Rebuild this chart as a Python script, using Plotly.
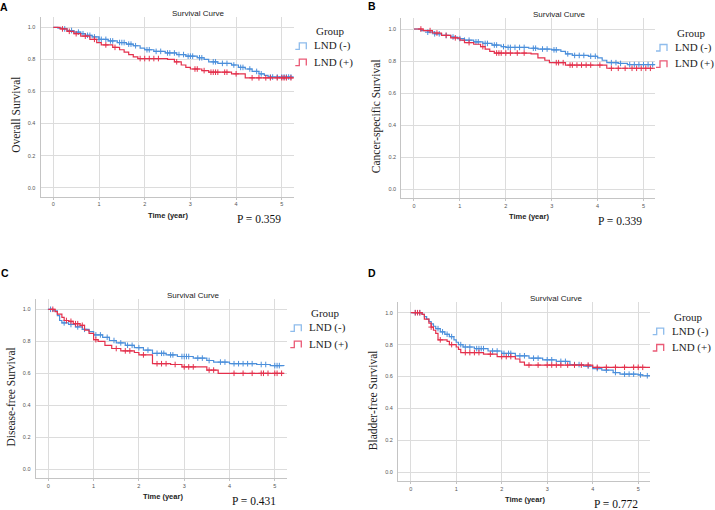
import numpy as np
import plotly.graph_objects as go

# ---- data (time in years, survival) ----
# A: overall survival
A_NEG_T = [0, 0.1, 0.2, 0.3, 0.45, 0.6, 0.7, 0.85, 1.0, 1.2, 1.4, 1.6, 1.75, 1.9, 2.0, 2.2, 2.45, 2.7, 2.9,
           3.15, 3.3, 3.4, 3.6, 3.9, 4.05, 4.2, 4.35, 4.5, 4.62, 4.7, 5.27]
A_NEG_S = [1.0, 0.995, 0.99, 0.98, 0.97, 0.96, 0.95, 0.94, 0.925, 0.915, 0.905, 0.895, 0.885, 0.87, 0.86, 0.85,
           0.84, 0.83, 0.82, 0.81, 0.80, 0.785, 0.775, 0.765, 0.75, 0.74, 0.725, 0.71, 0.70, 0.69, 0.69]
A_POS_T = [0, 0.15, 0.3, 0.45, 0.6, 0.8, 0.95, 1.05, 1.3, 1.45, 1.55, 1.65, 1.75, 1.85, 2.5, 2.65, 2.8, 2.9, 3.0,
           3.25, 3.4, 3.9, 4.2, 5.27]
A_POS_S = [1.0, 0.99, 0.975, 0.96, 0.945, 0.925, 0.905, 0.89, 0.875, 0.86, 0.845, 0.83, 0.815, 0.805, 0.80,
           0.785, 0.765, 0.75, 0.74, 0.73, 0.72, 0.71, 0.685, 0.685]
A_NEG_CENS = [0.25, 0.4, 0.55, 0.65, 0.75, 0.8, 0.9, 1.0, 1.05, 1.15, 1.25, 1.3, 1.45, 1.5, 1.55, 1.65, 1.7, 1.8,
              2.05, 2.1, 2.25, 2.35, 2.5, 2.55, 2.65, 2.75, 2.85, 2.95, 3.0, 3.05, 3.2, 3.25, 3.5, 3.55, 3.7,
              3.8, 3.95, 4.1, 4.15, 4.3, 4.45, 4.55, 4.75, 4.8, 4.9, 5.0, 5.05, 5.1, 5.15, 5.2]
A_POS_CENS = [0.2, 0.35, 0.5, 0.7, 0.9, 1.15, 1.35, 1.9, 2.0, 2.1, 2.2, 2.3, 2.7, 3.1, 3.15, 3.3, 3.45, 3.5, 3.55,
              3.6, 3.75, 3.8, 4.0, 4.35, 4.5, 4.65, 4.75, 4.9, 5.0, 5.05, 5.1, 5.2]

# B: cancer-specific survival
B_NEG_T = [0, 0.15, 0.3, 0.45, 0.6, 0.8, 0.95, 1.1, 1.3, 1.5, 1.7, 1.9, 2.0, 2.5, 2.7, 3.0, 3.2, 3.3, 3.45,
           3.8, 4.0, 4.1, 4.2, 4.45, 4.65, 5.25]
B_NEG_S = [1.0, 0.99, 0.98, 0.97, 0.96, 0.95, 0.94, 0.93, 0.92, 0.91, 0.9, 0.89, 0.885, 0.88, 0.875, 0.87,
           0.86, 0.845, 0.835, 0.83, 0.82, 0.805, 0.79, 0.785, 0.778, 0.778]
B_POS_T = [0, 0.2, 0.4, 0.6, 0.8, 1.0, 1.1, 1.3, 1.45, 1.55, 1.65, 1.75, 2.55, 2.7, 2.85, 2.95, 3.3, 4.2, 5.25]
B_POS_S = [1.0, 0.99, 0.975, 0.96, 0.945, 0.93, 0.915, 0.905, 0.89, 0.875, 0.86, 0.85, 0.845, 0.82, 0.805,
           0.79, 0.775, 0.755, 0.755]
B_NEG_CENS = [0.3, 0.45, 0.55, 0.7, 0.85, 1.0, 1.1, 1.2, 1.35, 1.4, 1.55, 1.6, 1.75, 1.8, 1.95, 2.05, 2.1, 2.2,
              2.3, 2.4, 2.6, 2.65, 2.8, 2.9, 3.05, 3.1, 3.35, 3.5, 3.6, 3.7, 3.85, 3.95, 4.3, 4.4, 4.5, 4.7,
              4.8, 4.9, 5.0, 5.1, 5.2]
B_POS_CENS = [0.15, 0.35, 0.5, 0.7, 0.9, 1.2, 1.5, 1.8, 1.85, 1.9, 2.0, 2.1, 2.25, 2.4, 3.1, 3.15, 3.25, 3.4,
              3.45, 3.55, 3.65, 3.75, 3.85, 4.05, 4.3, 4.45, 4.6, 4.75, 4.85, 4.95, 5.05, 5.15]

# C: disease-free survival
C_NEG_T = [0, 0.1, 0.2, 0.25, 0.3, 0.45, 0.6, 0.75, 0.9, 1.0, 1.2, 1.35, 1.5, 1.7, 1.9, 2.1, 2.3, 2.6, 2.85,
           3.2, 3.5, 3.65, 4.0, 4.6, 4.9, 5.2]
C_NEG_S = [1.0, 0.99, 0.96, 0.93, 0.915, 0.905, 0.89, 0.875, 0.86, 0.84, 0.825, 0.805, 0.79, 0.775, 0.76,
           0.745, 0.725, 0.715, 0.705, 0.695, 0.68, 0.67, 0.66, 0.655, 0.648, 0.645]
C_POS_T = [0, 0.15, 0.2, 0.3, 0.35, 0.45, 0.55, 0.7, 0.8, 0.9, 1.0, 1.1, 1.25, 1.4, 1.6, 1.9, 2.0, 2.3, 2.7,
           2.95, 3.5, 3.75, 5.2]
C_POS_S = [1.0, 0.985, 0.97, 0.95, 0.93, 0.925, 0.91, 0.9, 0.87, 0.85, 0.81, 0.80, 0.775, 0.755, 0.74, 0.73,
           0.715, 0.66, 0.655, 0.64, 0.62, 0.60, 0.60]
C_NEG_CENS = [0.05, 0.35, 0.5, 0.65, 0.8, 1.05, 1.15, 1.3, 1.45, 1.6, 1.75, 1.85, 2.0, 2.2, 2.4, 2.5, 2.55,
              2.7, 2.75, 2.95, 3.0, 3.05, 3.1, 3.3, 3.4, 3.55, 3.8, 3.9, 4.1, 4.2, 4.3, 4.4, 4.5, 4.7, 4.8,
              5.0, 5.05, 5.1]
C_POS_CENS = [0.1, 0.4, 0.5, 0.6, 0.65, 0.75, 1.05, 1.5, 1.7, 1.8, 2.1, 2.4, 2.5, 2.6, 2.8, 3.0, 3.1, 3.2,
              3.55, 3.65, 4.1, 4.3, 4.5, 4.7, 4.75, 4.85, 5.0, 5.05, 5.15]

# D: bladder-free survival
D_NEG_T = [0, 0.25, 0.3, 0.35, 0.4, 0.45, 0.5, 0.55, 0.65, 0.75, 0.85, 0.95, 1.0, 1.05, 1.15, 1.4, 1.7, 2.0,
           2.3, 2.6, 2.9, 3.2, 3.5, 3.8, 4.0, 4.2, 4.45, 4.6, 5.0, 5.1, 5.27]
D_NEG_S = [1.0, 0.99, 0.975, 0.96, 0.945, 0.93, 0.915, 0.9, 0.88, 0.865, 0.85, 0.83, 0.815, 0.80, 0.785,
           0.775, 0.76, 0.745, 0.73, 0.715, 0.705, 0.695, 0.675, 0.665, 0.65, 0.64, 0.625, 0.615, 0.61, 0.605,
           0.605]
D_POS_T = [0, 0.25, 0.3, 0.4, 0.45, 0.5, 0.55, 0.6, 0.8, 0.85, 1.0, 1.05, 1.1, 1.6, 1.9, 2.3, 2.4, 2.5, 4.0,
           5.27]
D_POS_S = [1.0, 0.99, 0.96, 0.935, 0.91, 0.89, 0.87, 0.83, 0.82, 0.80, 0.785, 0.77, 0.75, 0.74, 0.725, 0.71,
           0.69, 0.672, 0.658, 0.658]
D_NEG_CENS = [0.1, 0.2, 0.6, 0.7, 0.8, 0.9, 1.1, 1.2, 1.3, 1.45, 1.5, 1.55, 1.6, 1.8, 1.9, 2.05, 2.15, 2.2,
              2.4, 2.5, 2.7, 2.8, 3.0, 3.1, 3.3, 3.4, 3.6, 3.7, 3.9, 4.1, 4.3, 4.5, 4.7, 4.8, 4.9, 5.05,
              5.2]
D_POS_CENS = [0.1, 0.15, 0.2, 0.45, 0.65, 0.9, 1.2, 1.3, 1.4, 1.5, 1.75, 2.0, 2.1, 2.2, 2.6, 2.8, 3.0, 3.1,
              3.2, 3.3, 3.45, 3.6, 3.75, 3.9, 4.1, 4.3, 4.5, 4.7, 4.9, 5.0, 5.1]

Y_TITLES = ["Overall Survival", "Cancer-specific Survival", "Disease-free Survival", "Bladder-free Survival"]
P_TEXTS = ["P = 0.359", "P = 0.339", "P = 0.431", "P = 0.772"]
LETTERS = ["A", "B", "C", "D"]
GROUPS = ["LND (-)", "LND (+)"]
X_TICKS = [0, 1, 2, 3, 4, 5]
Y_TICKS = [0.0, 0.2, 0.4, 0.6, 0.8, 1.0]

W, H = 715, 510
BLUE, RED = "#4b8fdb", "#e4304c"
BLUE_ICON, RED_ICON = "#8ebcec", "#ea5a76"
SERIF = "Liberation Serif, Times New Roman, serif"
SANS = "Liberation Sans, Arial, sans-serif"
X_RANGE = [-0.28, 5.26]
Y_RANGE = [-0.056, 1.066]

# pixel geometry per panel: x px of t=0, px per year, y px of S=1.0, y px of S=0.0, letter pos
GEOM = [
    dict(t0=53.3, ppy=45.7, s1=27.3, s0=187.7, letter=(3.5, 6.7)),
    dict(t0=414.0, ppy=45.9, s1=29.0, s0=189.3, letter=(371.5, 6.0)),
    dict(t0=48.3, ppy=45.3, s1=309.3, s0=469.3, letter=(4.5, 273.0)),
    dict(t0=410.7, ppy=45.5, s1=312.7, s0=472.3, letter=(371.5, 272.5)),
]

PANELS = [
    (A_NEG_T, A_NEG_S, A_NEG_CENS, A_POS_T, A_POS_S, A_POS_CENS),
    (B_NEG_T, B_NEG_S, B_NEG_CENS, B_POS_T, B_POS_S, B_POS_CENS),
    (C_NEG_T, C_NEG_S, C_NEG_CENS, C_POS_T, C_POS_S, C_POS_CENS),
    (D_NEG_T, D_NEG_S, D_NEG_CENS, D_POS_T, D_POS_S, D_POS_CENS),
]


def px_x(px):
    return px / W


def px_y(py):
    return 1 - py / H


def step_value(times, surv, at):
    idx = np.searchsorted(np.array(times), np.array(at), side="right") - 1
    return np.array(surv)[idx]


fig = go.Figure()
annotations = []
shapes = []

for i, (panel, g) in enumerate(zip(PANELS, GEOM)):
    n = "" if i == 0 else str(i + 1)
    xa, ya = "x" + n, "y" + n
    unit = g["s0"] - g["s1"]
    x_dom = [px_x(g["t0"] + X_RANGE[0] * g["ppy"]), px_x(g["t0"] + X_RANGE[1] * g["ppy"])]
    y_dom = [px_y(g["s0"] - Y_RANGE[0] * unit), px_y(g["s0"] - Y_RANGE[1] * unit)]

    neg_t, neg_s, neg_c, pos_t, pos_s, pos_c = panel
    for t, s, c, col in [(neg_t, neg_s, neg_c, BLUE), (pos_t, pos_s, pos_c, RED)]:
        fig.add_trace(go.Scatter(x=t, y=s, mode="lines", line=dict(color=col, width=1.2, shape="hv"),
                                 xaxis=xa, yaxis=ya, showlegend=False, hoverinfo="skip"))
        fig.add_trace(go.Scatter(x=c, y=step_value(t, s, c), mode="markers",
                                 marker=dict(symbol="cross-thin", size=4, line=dict(color=col, width=1)),
                                 xaxis=xa, yaxis=ya, showlegend=False, hoverinfo="skip"))

    fig.layout["xaxis" + n] = dict(
        domain=x_dom, range=X_RANGE, tickvals=X_TICKS, showgrid=True, gridcolor="#dcdcdc", gridwidth=1,
        zeroline=False, showline=True, linecolor="#c4c4c4", linewidth=1, ticks="outside", ticklen=2,
        tickcolor="#c4c4c4", tickfont=dict(family=SANS, size=5.5, color="#555555"), anchor=ya)
    fig.layout["yaxis" + n] = dict(
        domain=y_dom, range=Y_RANGE, tickvals=Y_TICKS, tickformat=".1f", showgrid=True, gridcolor="#dcdcdc",
        gridwidth=1, zeroline=False, showline=True, linecolor="#c4c4c4", linewidth=1, ticks="",
        ticklabelstandoff=3, tickfont=dict(family=SANS, size=5.5, color="#555555"), anchor=xa)

    t0, s0, s1 = g["t0"], g["s0"], g["s1"]
    # chart title, axis titles, p-value, panel letter
    annotations += [
        dict(text="Survival Curve", x=px_x(t0 + 145.5), y=px_y(s1 - 14.3),
             font=dict(family=SANS, size=8, color="#222222")),
        dict(text="<b>Time (year)</b>", x=px_x(t0 + 114.5), y=px_y(s0 + 27.5),
             font=dict(family=SANS, size=7.5, color="#222222")),
        dict(text=Y_TITLES[i], x=px_x(t0 - 37.5), y=px_y((s0 + s1) / 2 + 7.5), textangle=-90,
             font=dict(family=SERIF, size=11.5, color="#222222")),
        dict(text=P_TEXTS[i], x=px_x(t0 + 205.5), y=px_y(s0 + 31.5),
             font=dict(family=SERIF, size=11.5, color="#111111")),
        dict(text="<b>" + LETTERS[i] + "</b>", x=px_x(g["letter"][0]), y=px_y(g["letter"][1]),
             font=dict(family=SANS, size=10.5, color="#000000")),
        dict(text="Group", x=px_x(t0 + 261), y=px_y(s1 + 4), xanchor="left",
             font=dict(family=SERIF, size=11, color="#222222")),
    ]
    # legend entries with step-shaped keys
    for k, (name, col) in enumerate(zip(GROUPS, [BLUE_ICON, RED_ICON])):
        yc = s1 + 18.5 + 16.3 * k
        annotations.append(dict(text=name, x=px_x(t0 + 259), y=px_y(yc), xanchor="left",
                                font=dict(family=SERIF, size=11, color="#222222")))
        xl, yb, yt = t0 + 242, yc + 3.5, yc - 3
        path = "M {} {} L {} {} L {} {} L {} {} L {} {}".format(
            px_x(xl), px_y(yb), px_x(xl + 4), px_y(yb), px_x(xl + 4), px_y(yt),
            px_x(xl + 11), px_y(yt), px_x(xl + 11), px_y(yb))
        shapes.append(dict(type="path", path=path, xref="paper", yref="paper",
                           line=dict(color=col, width=1.3)))

for a in annotations:
    a.update(xref="paper", yref="paper", showarrow=False)
    a.setdefault("xanchor", "center")
    a.setdefault("yanchor", "middle")

fig.update_layout(width=W, height=H, margin=dict(l=0, r=0, t=0, b=0), paper_bgcolor="white",
                  plot_bgcolor="white", annotations=annotations, shapes=shapes, showlegend=False)
# page body has a default 8px margin; drop it so the figure fills the window
fig.write_html("out.html", config={"displayModeBar": False},
               post_script="document.body.style.margin='0';")
